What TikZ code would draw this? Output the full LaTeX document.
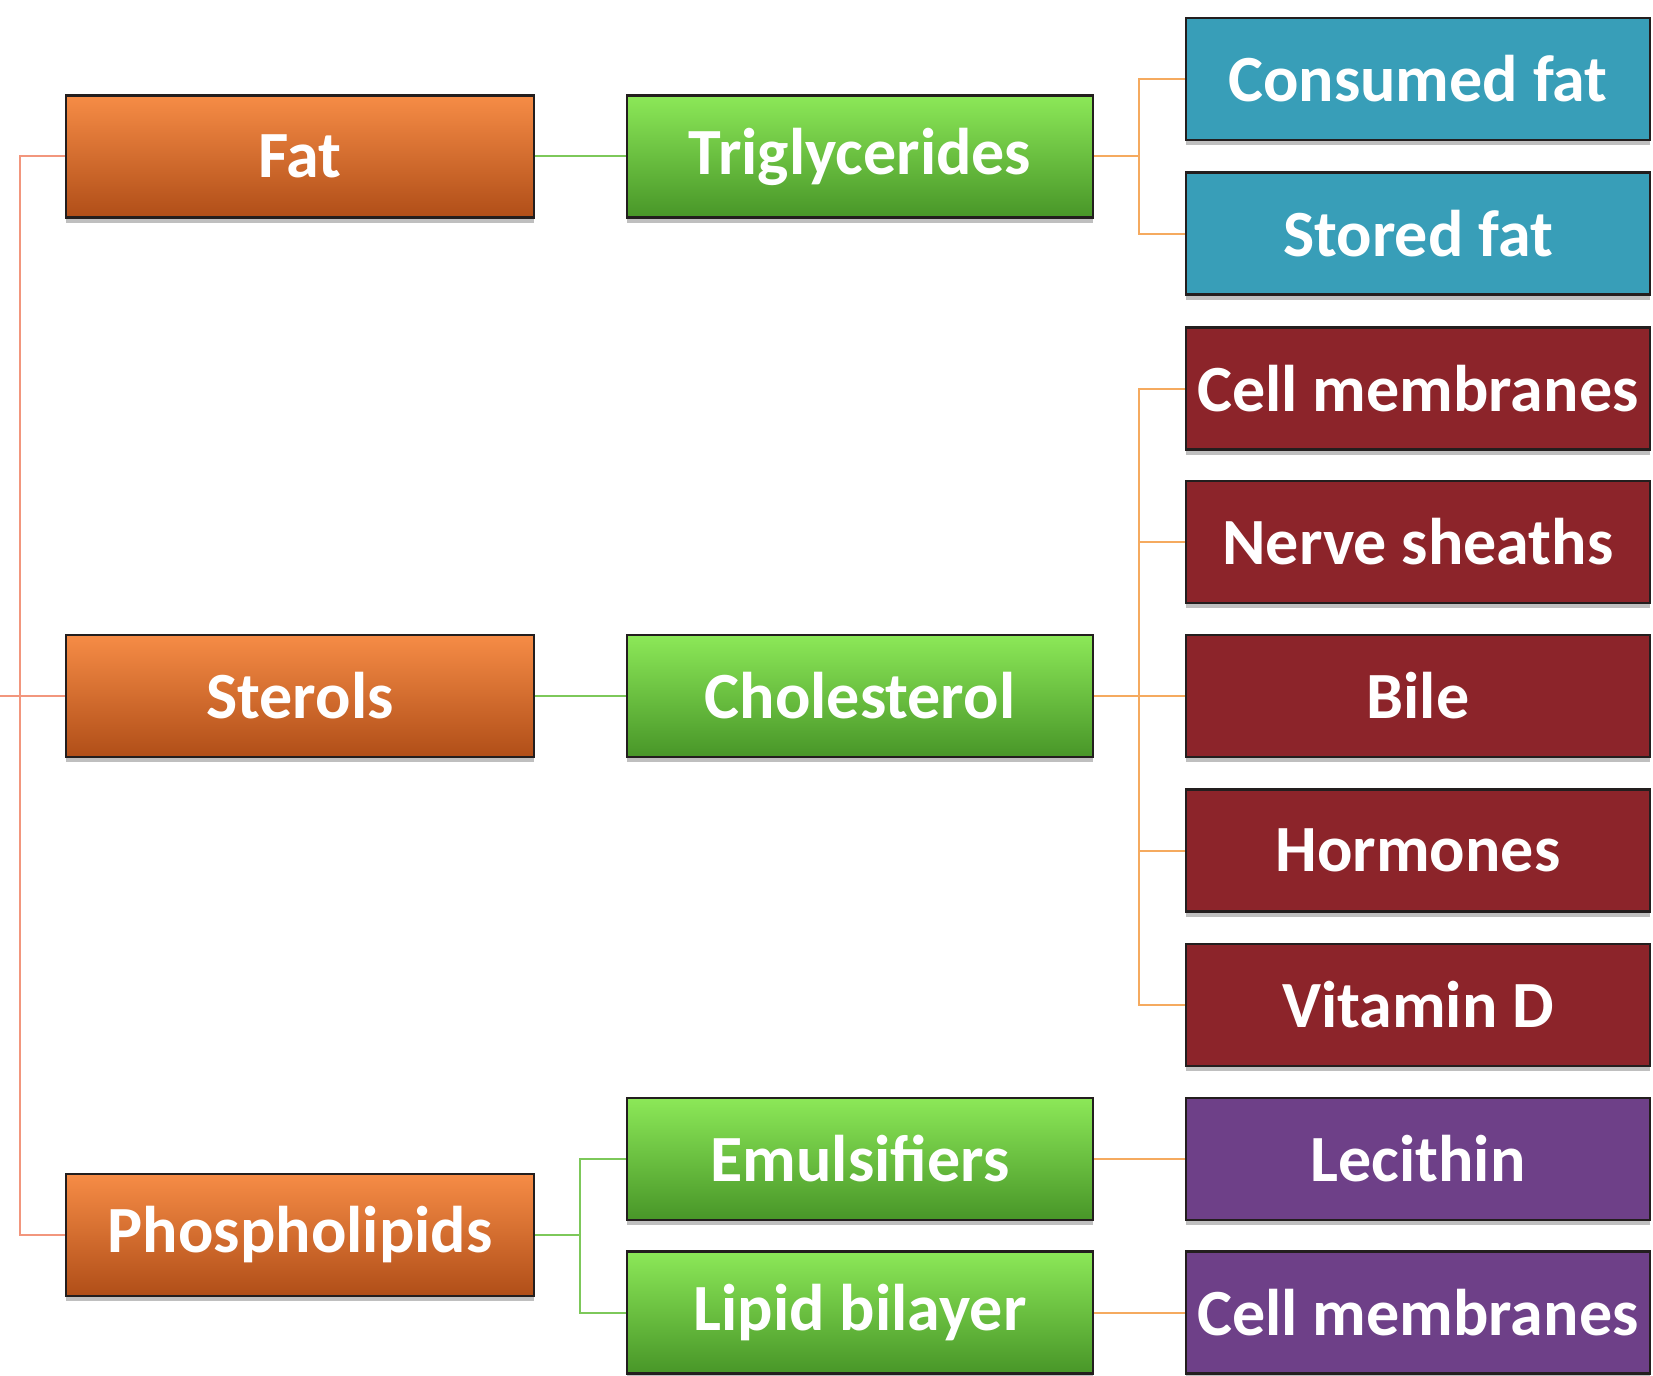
\documentclass[tikz,border=0pt]{standalone}
\usepackage{fontspec}
\setmainfont{Carlito}
\usetikzlibrary{shadows}
\definecolor{orT}{RGB}{246,140,70}
\definecolor{orB}{RGB}{176,78,24}
\definecolor{grT}{RGB}{140,232,88}
\definecolor{grB}{RGB}{72,150,40}
\definecolor{teal}{RGB}{56,158,184}
\definecolor{dred}{RGB}{140,36,42}
\definecolor{purp}{RGB}{110,64,136}
\definecolor{bord}{RGB}{35,30,30}
\definecolor{lnred}{RGB}{242,150,125}
\definecolor{lngr}{RGB}{125,200,90}
\definecolor{lnor}{RGB}{245,170,95}
\tikzset{
  box/.style={rectangle, draw=bord, line width=2.5pt, minimum height=122pt, inner sep=0pt,
    text=white, font=\fontsize{66}{72}\selectfont\bfseries,
    drop shadow={shadow xshift=0pt, shadow yshift=-5pt, opacity=0.25, fill=black}},
  orbox/.style={box, minimum width=468pt, top color=orT, bottom color=orB},
  grbox/.style={box, minimum width=466pt, top color=grT, bottom color=grB},
  tlbox/.style={box, minimum width=464pt, fill=teal},
  rdbox/.style={box, minimum width=464pt, fill=dred},
  ppbox/.style={box, minimum width=464pt, fill=purp},
  lred/.style={draw=lnred, line width=2pt},
  lgreen/.style={draw=lngr, line width=2pt},
  lorange/.style={draw=lnor, line width=2pt},
}
\begin{document}
\begin{tikzpicture}[x=1pt,y=-1pt]
\useasboundingbox[fill=white] (0,0) rectangle (1653,1375);
\coordinate (lt) at (20,156.5);
\coordinate (lb) at (20,1235);
\coordinate (lin) at (0,696);
\coordinate (gbus) at (580,0);
\coordinate (obus) at (1139,0);

\node[orbox] (fat) at (300,156.5) {Fat};
\node[orbox] (ster) at (300,696) {Sterols};
\node[orbox] (phos) at (300,1235) {Phospholipids};

\node[grbox] (trig) at (860,156.5) {Triglycerides};
\node[grbox] (chol) at (860,696) {Cholesterol};
\node[grbox] (emul) at (860,1159) {Emulsifiers};
\node[grbox] (lipid) at (860,1312.5) {Lipid bilayer};

\node[tlbox] (cons) at (1418,79) {Consumed fat};
\node[tlbox] (stor) at (1418,233.5) {Stored fat};
\node[rdbox] (cell) at (1418,388.5) {Cell membranes};
\node[rdbox] (nerve) at (1418,542) {Nerve sheaths};
\node[rdbox] (bile) at (1418,696) {Bile};
\node[rdbox] (horm) at (1418,850.5) {Hormones};
\node[rdbox] (vitd) at (1418,1005) {Vitamin D};
\node[ppbox] (lec) at (1418,1159) {Lecithin};
\node[ppbox] (cell2) at (1418,1312.5) {Cell membranes};

% left bus
\draw[lred] (fat.west) -- (lt) -- (lb) -- (phos.west);
\draw[lred] (lin) -- (ster.west);
% green
\draw[lgreen] (fat.east) -- (trig.west);
\draw[lgreen] (ster.east) -- (chol.west);
\draw[lgreen] (phos.east) -- (phos.east -| gbus);
\draw[lgreen] (emul.west) -- (emul.west -| gbus) -- (lipid.west -| gbus) -- (lipid.west);
% orange
\draw[lorange] (trig.east) -- (trig.east -| obus);
\draw[lorange] (cons.west) -- (cons.west -| obus) -- (stor.west -| obus) -- (stor.west);
\draw[lorange] (chol.east) -- (bile.west);
\draw[lorange] (cell.west) -- (cell.west -| obus) -- (vitd.west -| obus) -- (vitd.west);
\draw[lorange] (nerve.west) -- (nerve.west -| obus);
\draw[lorange] (horm.west) -- (horm.west -| obus);
\draw[lorange] (emul.east) -- (lec.west);
\draw[lorange] (lipid.east) -- (cell2.west);
\end{tikzpicture}
\end{document}
